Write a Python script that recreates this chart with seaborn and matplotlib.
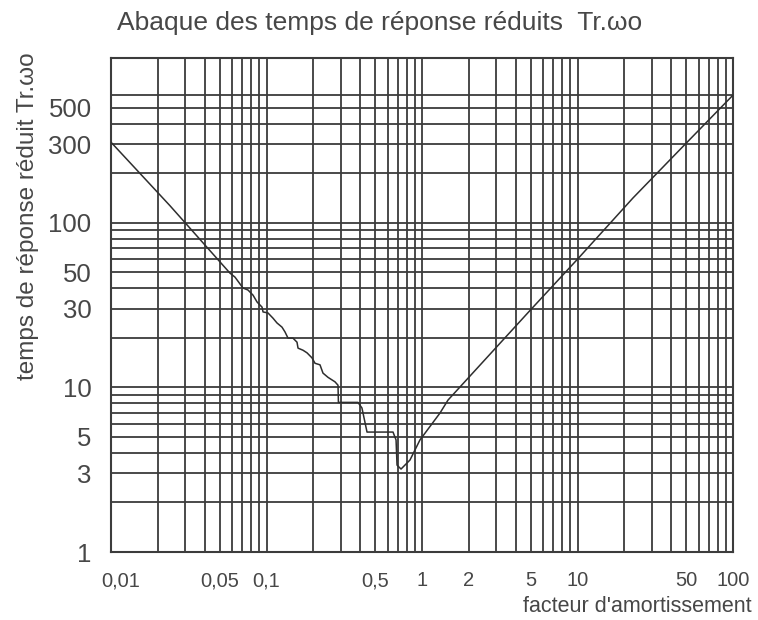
import matplotlib
matplotlib.use("Agg")
import matplotlib.pyplot as plt
from matplotlib.ticker import FixedLocator, FixedFormatter, NullFormatter
from matplotlib.transforms import ScaledTranslation
import numpy as np
import pandas as pd
import seaborn as sns

# Damping factor (zeta) and reduced 5% response time (Tr * w0)
damping = [0.01, 0.0239, 0.0582, 0.0627, 0.0706, 0.0760, 0.0819, 0.0869,
           0.0936, 0.0950, 0.1022, 0.1101, 0.1168, 0.1258, 0.1315, 0.1375,
           0.1480, 0.1571, 0.1595, 0.1717, 0.1822, 0.1961, 0.2051, 0.2208,
           0.2308, 0.2486, 0.2757, 0.2883, 0.2900, 0.3876, 0.411, 0.443,
           0.651, 0.681, 0.691, 0.733, 0.837, 0.970, 1.305, 1.47, 2.0, 5.0,
           10.0, 22.7, 50.0, 100.0]
response_time = [308, 127, 49.4, 46.7, 40.1, 39.0, 36.3, 33.0,
                 30.7, 28.7, 28.3, 26.3, 24.6, 23.2, 21.7, 19.9,
                 19.9, 18.8, 17.3, 16.8, 16.2, 15.1, 14.0, 13.7,
                 12.2, 11.5, 10.8, 10.3, 8.1, 8.1, 7.49, 5.35,
                 5.35, 4.79, 3.37, 3.19, 3.62, 4.79, 6.98, 8.37, 11.5, 29.6,
                 60, 141, 304, 595]

x_ticks = [0.01, 0.05, 0.1, 0.5, 1, 2, 5, 10, 50, 100]
x_tick_labels = ["0,01", "0,05", "0,1", "0,5", "1", "2", "5", "10", "50", "100"]
y_ticks = [1, 3, 5, 10, 30, 50, 100, 300, 500]
y_tick_labels = ["1", "3", "5", "10", "30", "50", "100", "300", "500"]

title = "Abaque des temps de réponse réduits  Tr.ωo"
x_label = "facteur d'amortissement"
y_label = "temps de réponse réduit Tr.ωo"

sns.set_theme(style="white")
plt.rcParams["font.family"] = ["Liberation Sans", "DejaVu Sans"]

ink = "#3c3c3c"
text_col = "#474747"

fig = plt.figure(figsize=(7.58, 6.2), dpi=100)
ax = fig.add_axes([111 / 758, 68 / 620, 622 / 758, 494 / 620])

df = pd.DataFrame({"zeta": damping, "tr": response_time})
sns.lineplot(data=df, x="zeta", y="tr", ax=ax, color="#2e2e2e",
             linewidth=1.1, sort=False, zorder=3)

ax.set_xscale("log")
ax.set_yscale("log")
ax.set_xlim(0.01, 100)
ax.set_ylim(1, 1000)

# grid: every 2..9 multiple on x; on y the top decade stops at 600
x_minor = [m * 10.0 ** e for e in range(-2, 2) for m in range(2, 10)]
x_minor = [v for v in x_minor if not any(np.isclose(v, t) for t in x_ticks)]
y_grid = [m * 10.0 ** e for e in range(0, 2) for m in range(2, 11)] + \
         [200, 300, 400, 500, 600]
y_minor = [v for v in y_grid if not any(np.isclose(v, t) for t in y_ticks)]

ax.xaxis.set_major_locator(FixedLocator(x_ticks))
ax.xaxis.set_major_formatter(FixedFormatter(x_tick_labels))
ax.xaxis.set_minor_locator(FixedLocator(x_minor))
ax.xaxis.set_minor_formatter(NullFormatter())
ax.yaxis.set_major_locator(FixedLocator(y_ticks))
ax.yaxis.set_major_formatter(FixedFormatter(y_tick_labels))
ax.yaxis.set_minor_locator(FixedLocator(y_minor))
ax.yaxis.set_minor_formatter(NullFormatter())

ax.grid(True, which="both", color=ink, linewidth=1.3, zorder=1)
ax.set_axisbelow(True)
for s in ax.spines.values():
    s.set_color(ink)
    s.set_linewidth(1.5)

ax.tick_params(axis="both", which="both", length=0)
ax.tick_params(axis="x", labelsize=14.5, pad=14, labelcolor=text_col)
ax.tick_params(axis="y", labelsize=18.5, pad=14, labelcolor=text_col)
ax.set_xlabel("")
ax.set_ylabel("")

fig.canvas.draw()
first = ax.get_xticklabels()[0]
first.set_transform(first.get_transform() +
                    ScaledTranslation(10 / 100, 0, fig.dpi_scale_trans))

fig.text(380 / 758, 1 - 30 / 620, title, ha="center", va="baseline",
         fontsize=19, color=text_col)
fig.text(752 / 758, 1 - 612 / 620, x_label, ha="right", va="baseline",
         fontsize=15.5, color=text_col)
fig.text(28 / 758, 1 - 216 / 620, y_label, ha="center", va="center",
         rotation=90, fontsize=17.5, color=text_col)

fig.savefig("out.png", dpi=100, facecolor="white")
